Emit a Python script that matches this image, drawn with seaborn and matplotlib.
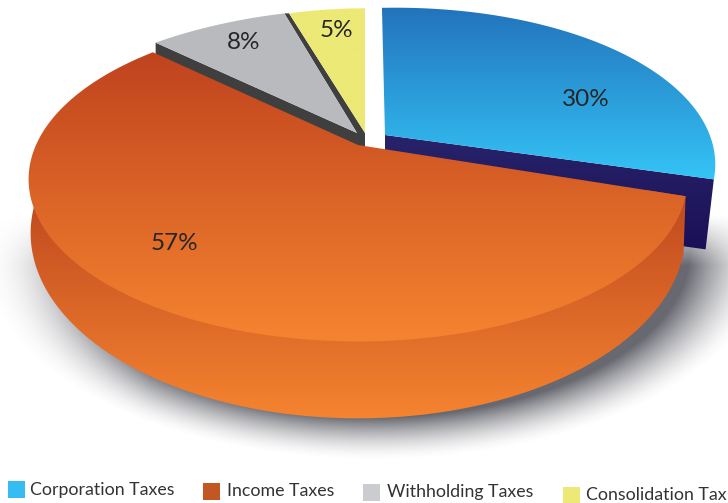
import numpy as np
import seaborn as sns
import matplotlib
matplotlib.use("Agg")
import matplotlib.pyplot as plt
from matplotlib.patches import Polygon, Rectangle

categories = ["Corporation Taxes", "Income Taxes", "Withholding Taxes", "Consolidation Tax"]
values = [30, 57, 8, 5]

sns.set_theme(style="white")
plt.rcParams["font.family"] = ["Lato", "DejaVu Sans"]

# perspective of the disc, one entry per slice
apex = [(385, 135), (358, 145), (357, 133), (365, 133)]
rx = [322, 322, 331, 295]
ry = [154, 155, 151, 151]
x_shear = [-0.024, 0, 0.105, 0]
y_shear = [0.02, 0, 0, 0]
persp = 0.211

top_cols = [["#2272ba", "#35c6f8"], ["#bf421e", "#f68530"], ["#b9babe", "#babbbf"], ["#ece976", "#ece976"]]
top_span = [(4, 184), (48, 346), (5, 140), (4, 140)]
label_pos = [(586, 99), (174, 244), (244, 42), (336, 30)]

swatch_cols = ["#35bdf3", "#c25724", "#cbcccf", "#ece976"]
swatch_pos = [(8, 481), (203, 483), (363, 484), (563, 487)]
legend_pos = [(30, 490), (227, 491), (387, 492), (586, 495)]

fig = plt.figure(figsize=(7.28, 5.03), dpi=100)
ax = fig.add_axes([0, 0, 1, 1])

wedges, _ = ax.pie(values, startangle=90, counterclock=False)
for w in wedges:
    w.set_visible(False)
ax.set_aspect("auto")


def project(theta, c, r, s, k=0.0, q=0.0, dy=0.0):
    u, v = np.cos(np.radians(theta)), np.sin(np.radians(theta))
    w = 1 + persp * v
    x, y = r * u / w, s * v / w
    return c[0] + x + k * y, c[1] + dy - (y + q * x)


def arc_points(i, a, b, n=200):
    t = np.linspace(a, b, n)
    return np.column_stack(project(t, apex[i], rx[i], ry[i], x_shear[i], y_shear[i]))


def fill(points, cols, span, z):
    patch = Polygon(points, closed=True, fc="none", ec="none", zorder=z)
    ax.add_patch(patch)
    cmap = sns.blend_palette(cols, as_cmap=True)
    im = ax.imshow(np.linspace(0, 1, 256)[:, None], cmap=cmap, aspect="auto",
                   extent=(0, 728, span[1], span[0]), zorder=z)
    im.set_clip_path(patch)


def slice_points(i):
    a, b = wedges[i].theta1, wedges[i].theta2
    return np.vstack([[apex[i]], arc_points(i, a, b)])


# soft shadow under the disc, fainter to the left and gone above the wall
yy, xx = np.mgrid[0:503, 0:728]
d = np.sqrt(((xx - 373) / 326.0) ** 2 + ((yy - 250) / 172.0) ** 2)
fade = 1 - np.clip((d - 0.97) / 0.25, 0, 1)
shadow = np.zeros((503, 728, 4))
shadow[..., :3] = matplotlib.colors.to_rgb("#5f6068")
shadow[..., 3] = 0.95 * fade ** 1.6 * np.clip((yy - 215) / 50.0, 0, 1) * np.clip(0.4 + (xx - 30) / 200.0, 0, 1)
ax.imshow(shadow, extent=(0, 728, 503, 0), aspect="auto", zorder=1)

# navy cut face of the pulled out slice
edge = arc_points(0, wedges[0].theta1, wedges[0].theta1, 1)[0]
ang = np.array(apex[0])
navy = [ang, edge, ang + (edge - ang) * [0.975, 1] + [0, 70], ang + [0, 70]]
fill(navy, ["#28246b", "#1a0f57"], (130, 255), 2)

# side wall of the big slice, from its cut edge round to the hidden back
t = np.linspace(wedges[1].theta1 + 23, wedges[1].theta2, 200)
tip = arc_points(1, wedges[1].theta2, wedges[1].theta2, 1)
low_edge = np.column_stack(project(t, apex[1], 320, 177, dy=49))
fill(np.vstack([[apex[1]], low_edge, tip]), ["#bf471f", "#f68530"], (190, 422), 3)

# blue slice
fill(slice_points(0), top_cols[0], top_span[0], 4)

# dark faces beside the grey slice
g_edge = arc_points(2, wedges[2].theta2, wedges[2].theta2, 1)[0]
face = [g_edge, apex[2], apex[3], np.array(apex[3]) + [0, 14],
        np.array(apex[2]) + [-4, 12], g_edge + [0, 12]]
ax.add_patch(Polygon(face, closed=True, fc="#3f3f3f", ec="none", zorder=5))
g_top = arc_points(2, wedges[2].theta1, wedges[2].theta1, 1)[0]
y_top = arc_points(3, wedges[3].theta2, wedges[3].theta2, 1)[0]
ax.add_patch(Polygon([g_top, apex[2], apex[3], y_top], closed=True, fc="#3f3f3f", ec="none", zorder=5))

fill(slice_points(2), top_cols[2], top_span[2], 6)
fill(slice_points(3), top_cols[3], top_span[3], 6)

# orange slice
fill(slice_points(1), top_cols[1], top_span[1], 8)

for v, (x, y) in zip(values, label_pos):
    ax.text(x, y, f"{v}%", fontsize=17.5, color="#262626", ha="center", va="center", zorder=10)

for name, col, (sx, sy), (tx, ty) in zip(categories, swatch_cols, swatch_pos, legend_pos):
    ax.add_patch(Rectangle((sx, sy), 17, 17, fc=col, ec="none", zorder=10))
    ax.text(tx, ty, name, fontsize=12.8, color="#333333", ha="left", va="center", zorder=10)

ax.set_xlim(0, 728)
ax.set_ylim(503, 0)
ax.axis("off")
fig.savefig("out.png", dpi=100)
